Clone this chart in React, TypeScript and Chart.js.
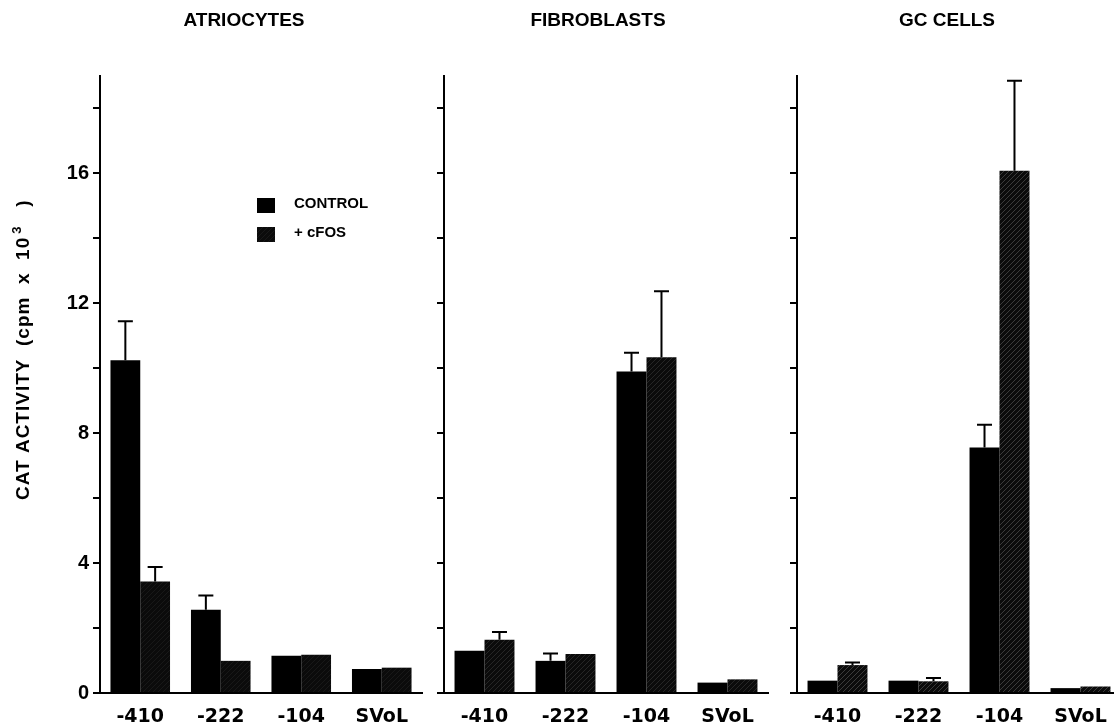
import React, { useEffect, useRef } from 'react';
import { Chart, registerables } from 'chart.js';

Chart.register(...registerables);

// ---------- data ----------
const categories = ['-410', '-222', '-104', 'SVoL'];
const panelTitles = ['ATRIOCYTES', 'FIBROBLASTS', 'GC CELLS'];
const seriesLabels = ['CONTROL', '+ cFOS'];

const atrioControl = [10.25, 2.56, 1.15, 0.74];
const atrioControlErr = [1.2, 0.44, 0, 0];
const atrioFos = [3.43, 0.99, 1.18, 0.78];
const atrioFosErr = [0.45, 0, 0, 0];

const fibroControl = [1.3, 0.99, 9.9, 0.32];
const fibroControlErr = [0, 0.23, 0.58, 0];
const fibroFos = [1.64, 1.2, 10.34, 0.42];
const fibroFosErr = [0.24, 0, 2.03, 0];

const gcControl = [0.38, 0.38, 7.56, 0.15];
const gcControlErr = [0, 0, 0.7, 0];
const gcFos = [0.86, 0.36, 16.08, 0.2];
const gcFosErr = [0.08, 0.1, 2.77, 0];

const yMajorTicks = [0, 4, 8, 12, 16];
const yMax = 19;
const yAxisTitleMain = 'CAT ACTIVITY  (cpm  x  10';
const yAxisTitleSup = '3';
const yAxisTitleEnd = ')';

// ---------- layout / style ----------
const W = 1114;
const H = 727;
const SANS = '"Liberation Sans", Arial, Helvetica, sans-serif';
const WIDE = '"DejaVu Sans", Verdana, sans-serif';

type PanelSpec = {
  title: string;
  control: number[];
  controlErr: number[];
  fos: number[];
  fosErr: number[];
  left: number;
  width: number;
  axisWidth: number;
  padRight: number;
  titleDx: number;
  hatchAlpha: number;
  first: boolean;
};

const panels: PanelSpec[] = [
  { title: panelTitles[0], control: atrioControl, controlErr: atrioControlErr, fos: atrioFos, fosErr: atrioFosErr,
    left: 0, width: 430, axisWidth: 100, padRight: 8, titleDx: 144, hatchAlpha: 0.1, first: true },
  { title: panelTitles[1], control: fibroControl, controlErr: fibroControlErr, fos: fibroFos, fosErr: fibroFosErr,
    left: 430, width: 345, axisWidth: 14, padRight: 7, titleDx: 154, hatchAlpha: 0.2, first: false },
  { title: panelTitles[2], control: gcControl, controlErr: gcControlErr, fos: gcFos, fosErr: gcFosErr,
    left: 775, width: 350, axisWidth: 22, padRight: 4, titleDx: 150, hatchAlpha: 0.35, first: false },
];

function makeHatch(alpha: number): CanvasPattern | string {
  const c = document.createElement('canvas');
  c.width = 5;
  c.height = 5;
  const g = c.getContext('2d');
  if (!g) return '#0d0d0d';
  g.fillStyle = '#0b0b0b';
  g.fillRect(0, 0, 5, 5);
  g.strokeStyle = `rgba(150,150,150,${alpha})`;
  g.lineWidth = 1;
  g.beginPath();
  g.moveTo(0, 5);
  g.lineTo(5, 0);
  g.moveTo(-1, 1);
  g.lineTo(1, -1);
  g.moveTo(4, 6);
  g.lineTo(6, 4);
  g.stroke();
  return g.createPattern(c, 'repeat') || '#0d0d0d';
}

const errorBarPlugin = {
  id: 'errorBars',
  afterDatasetsDraw(chart: any) {
    const ctx = chart.ctx;
    const yScale = chart.scales.y;
    chart.data.datasets.forEach((ds: any, di: number) => {
      const errs: number[] | undefined = ds.errors;
      if (!errs) return;
      const meta = chart.getDatasetMeta(di);
      meta.data.forEach((bar: any, i: number) => {
        const e = errs[i];
        if (!e) return;
        const v = ds.data[i] as number;
        const yTop = yScale.getPixelForValue(v + e);
        ctx.save();
        ctx.strokeStyle = '#000';
        ctx.lineWidth = 2;
        ctx.beginPath();
        ctx.moveTo(bar.x, bar.y);
        ctx.lineTo(bar.x, yTop);
        ctx.moveTo(bar.x - 7.5, yTop);
        ctx.lineTo(bar.x + 7.5, yTop);
        ctx.stroke();
        ctx.restore();
      });
    });
  },
};

const decorPlugin = {
  id: 'decor',
  afterDraw(chart: any, _args: any, opts: any) {
    const { ctx, chartArea } = chart;
    ctx.save();
    ctx.fillStyle = '#000';
    // panel title
    if (opts.title) {
      ctx.font = `bold 19px ${SANS}`;
      ctx.textAlign = 'center';
      ctx.textBaseline = 'alphabetic';
      ctx.fillText(opts.title, chartArea.left + opts.titleDx, 25.5);
    }
    if (opts.first) {
      // y-axis title (reads bottom to top)
      ctx.save();
      ctx.translate(29, 500);
      ctx.rotate(-Math.PI / 2);
      ctx.textAlign = 'left';
      ctx.textBaseline = 'alphabetic';
      ctx.font = `bold 19px ${SANS}`;
      (ctx as any).letterSpacing = '1px';
      ctx.fillText(yAxisTitleMain, 0, 0);
      const w = ctx.measureText(yAxisTitleMain).width;
      ctx.font = `bold 13px ${SANS}`;
      ctx.fillText(yAxisTitleSup, w + 3, -8);
      ctx.font = `bold 19px ${SANS}`;
      ctx.fillText(yAxisTitleEnd, w + 30, 0);
      ctx.restore();
      // legend
      const ds = chart.data.datasets;
      const lx = chartArea.left + 157;
      const rows = [198, 227];
      ds.forEach((d: any, i: number) => {
        ctx.fillStyle = d.backgroundColor;
        ctx.fillRect(lx, rows[i], 18, 15);
        ctx.fillStyle = '#000';
        ctx.font = `bold 15px ${SANS}`;
        ctx.textAlign = 'left';
        ctx.textBaseline = 'alphabetic';
        ctx.fillText(d.label, lx + 37, rows[i] + 10);
      });
    }
    ctx.restore();
  },
};

function buildConfig(p: PanelSpec): any {
  return {
    type: 'bar',
    data: {
      labels: categories,
      datasets: [
        { label: seriesLabels[0], data: p.control, errors: p.controlErr, backgroundColor: '#000', borderWidth: 0 },
        { label: seriesLabels[1], data: p.fos, errors: p.fosErr, backgroundColor: makeHatch(p.hatchAlpha), borderWidth: 0 },
      ],
    },
    plugins: [errorBarPlugin, decorPlugin],
    options: {
      animation: false,
      responsive: false,
      maintainAspectRatio: false,
      events: [],
      layout: { padding: { top: 76, right: p.padRight, left: 0, bottom: 0 } },
      datasets: { bar: { categoryPercentage: 0.74, barPercentage: 1 } },
      plugins: {
        legend: { display: false },
        tooltip: { enabled: false },
        title: { display: false },
        decor: { title: p.title, titleDx: p.titleDx, first: p.first },
      },
      scales: {
        x: {
          type: 'category',
          offset: true,
          grid: { display: false, drawTicks: false },
          border: { display: true, color: '#000', width: 2 },
          ticks: {
            color: '#000',
            font: { family: WIDE, size: 19, weight: 'bold' },
            padding: 13,
            autoSkip: false,
            maxRotation: 0,
            minRotation: 0,
          },
          afterFit: (s: any) => {
            s.height = 34;
          },
        },
        y: {
          type: 'linear',
          min: 0,
          max: yMax,
          grid: { display: true, drawOnChartArea: false, drawTicks: true, tickLength: 7, color: '#000', lineWidth: 2 },
          border: { display: true, color: '#000', width: 2 },
          ticks: {
            stepSize: 2,
            includeBounds: false,
            color: '#000',
            padding: 4,
            font: { family: SANS, size: 20, weight: 'bold' },
            callback: (v: any) => (p.first && yMajorTicks.includes(Number(v)) ? String(v) : ''),
          },
          afterFit: (s: any) => {
            s.width = p.axisWidth;
          },
        },
      },
    },
  };
}

function Panel({ spec }: { spec: PanelSpec }) {
  const ref = useRef<HTMLCanvasElement | null>(null);
  useEffect(() => {
    if (!ref.current) return;
    const chart = new Chart(ref.current, buildConfig(spec));
    return () => chart.destroy();
  }, [spec]);
  return (
    <canvas
      ref={ref}
      width={spec.width}
      height={H}
      style={{ position: 'absolute', left: spec.left, top: 0, width: spec.width, height: H }}
    />
  );
}

export default function App() {
  return (
    <div
      style={{
        position: 'fixed',
        left: 0,
        top: 0,
        width: W,
        height: H,
        overflow: 'hidden',
        background: '#fff',
      }}
    >
      {panels.map((p) => (
        <Panel key={p.title} spec={p} />
      ))}
    </div>
  );
}
